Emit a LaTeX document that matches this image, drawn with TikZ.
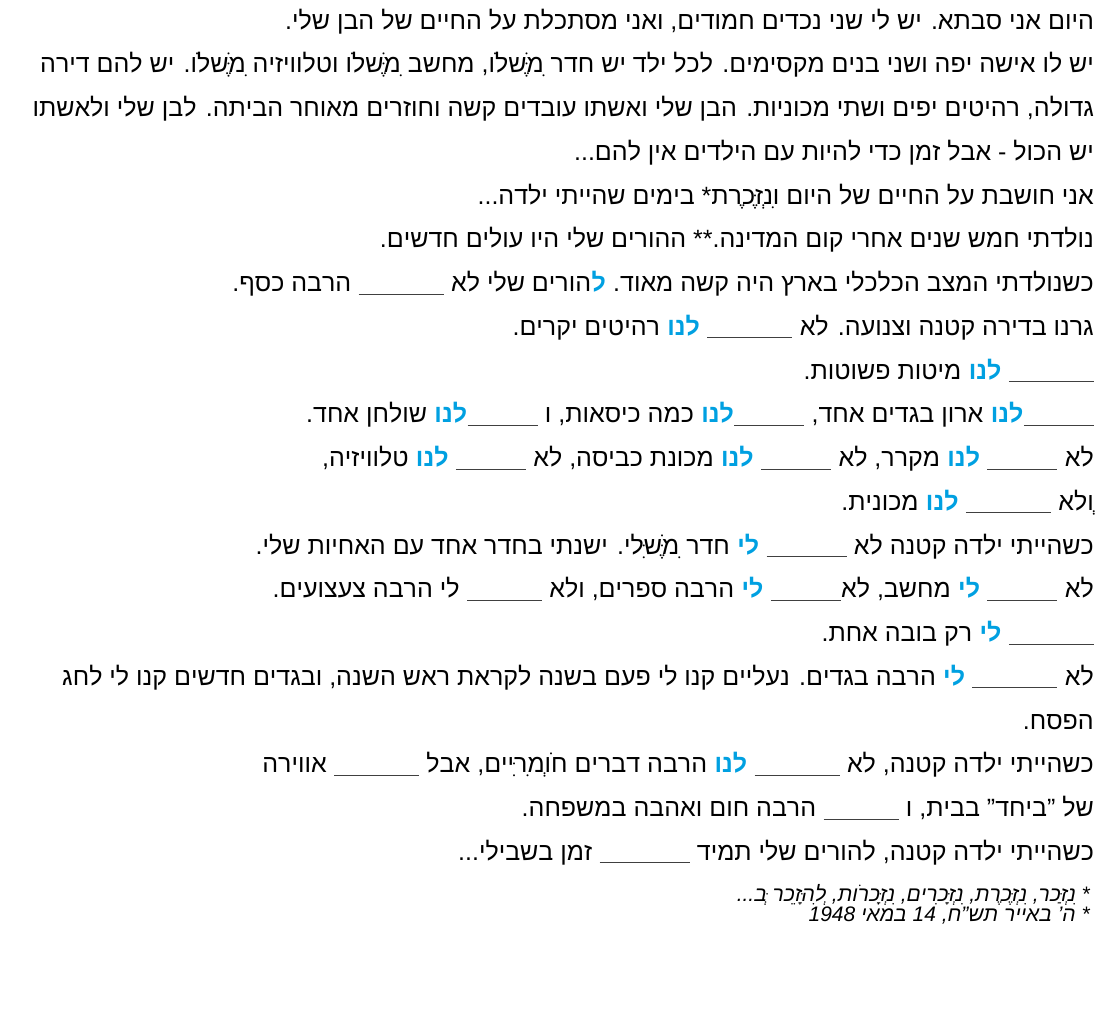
\documentclass[tikz,border=0pt]{standalone}
\usepackage{fontspec}
\setmainfont{Liberation Sans}
\TeXXeTstate=1
\definecolor{hblue}{RGB}{0,160,225}
\newcount\sc
\newcommand\seg[3]{\global\advance\sc1
  \node[ln,text=#1] (s\the\sc) at (cur) {#2};
  \coordinate (cur) at ([xshift=-#3]s\the\sc.base west);}
\newcommand\T[1]{\seg{black}{\beginR #1\endR}{7pt}}
\newcommand\Tn[1]{\seg{black}{\beginR #1\endR}{0pt}}
\newcommand\B[1]{\seg{hblue}{\bfseries\beginR #1\endR}{7pt}}
\newcommand\Bn[1]{\seg{hblue}{\bfseries\beginR #1\endR}{0pt}}
\newcommand\U[1]{\seg{black!75}{\rule[-3pt]{#1pt}{0.9pt}}{7pt}}
\newcommand\Un[1]{\seg{black!75}{\rule[-3pt]{#1pt}{0.9pt}}{0pt}}
\newcommand\start[1]{\coordinate (cur) at (1094,{29+(#1-1)*43.75});}
\begin{document}
\begin{tikzpicture}[x=1pt,y=-1pt,
  ln/.style={anchor=base east,inner sep=0pt,font=\fontsize{25}{30}\selectfont},
  fn/.style={anchor=east,inner sep=0pt,font=\fontsize{21}{23}\selectfont\itshape}]
\useasboundingbox (0,0) rectangle (1101,1018);
\start{1}\T{היום אני סבתא. יש לי שני נכדים חמודים, ואני מסתכלת על החיים של הבן שלי.}
\start{2}\T{יש לו אישה יפה ושני בנים מקסימים. לכל ילד יש חדר מִשֶּׁלוֹ, מחשב מִשֶּׁלוֹ וטלוויזיה מִשֶּׁלוֹ. יש להם דירה}
\start{3}\T{גדולה, רהיטים יפים ושתי מכוניות. הבן שלי ואשתו עובדים קשה וחוזרים מאוחר הביתה. לבן שלי ולאשתו}
\start{4}\T{יש הכול - אבל זמן כדי להיות עם הילדים אין להם...}
\start{5}\T{אני חושבת על החיים של היום ונִזְכֶּרֶת* בימים שהייתי ילדה...}
\start{6}\T{נולדתי חמש שנים אחרי קום המדינה.** ההורים שלי היו עולים חדשים.}
\start{7}\T{כשנולדתי המצב הכלכלי בארץ היה קשה מאוד.}\Bn{ל}\T{הורים שלי לא}\U{85}\T{הרבה כסף.}
\start{8}\T{גרנו בדירה קטנה וצנועה. לא}\U{85}\B{לנו}\T{רהיטים יקרים.}
\start{9}\U{85}\B{לנו}\T{מיטות פשוטות.}
\start{10}\Un{70}\B{לנו}\T{ארון בגדים אחד,}\Un{70}\B{לנו}\T{כמה כיסאות, ו}\Un{70}\B{לנו}\T{שולחן אחד.}
\start{11}\T{לא}\U{70}\B{לנו}\T{מקרר, לא}\U{70}\B{לנו}\T{מכונת כביסה, לא}\U{70}\B{לנו}\T{טלוויזיה,}
\start{12}\T{וְלא}\U{85}\B{לנו}\T{מכונית.}
\start{13}\T{כשהייתי ילדה קטנה לא}\U{80}\B{לי}\T{חדר מִשֶּׁלִּי. ישנתי בחדר אחד עם האחיות שלי.}
\start{14}\T{לא}\U{70}\B{לי}\Tn{מחשב, לא}\U{70}\B{לי}\T{הרבה ספרים, ולא}\U{75}\T{לי הרבה צעצועים.}
\start{15}\U{85}\B{לי}\T{רק בובה אחת.}
\start{16}\T{לא}\U{85}\B{לי}\T{הרבה בגדים. נעליים קנו לי פעם בשנה לקראת ראש השנה, ובגדים חדשים קנו לי לחג}
\start{17}\T{הפסח.}
\start{18}\T{כשהייתי ילדה קטנה, לא}\U{85}\B{לנו}\T{הרבה דברים חוֹמְרִיִּים, אבל}\U{85}\T{אווירה}
\start{19}\T{של "ביחד" בבית, ו}\U{75}\T{הרבה חום ואהבה במשפחה.}
\start{20}\T{כשהייתי ילדה קטנה, להורים שלי תמיד}\U{90}\T{זמן בשבילי...}
\node[fn] (f1) at (1090,895) {\beginR * נִזְכַּר, נִזְכֶּרֶת, נִזְכָּרִים, נִזְכָּרוֹת, לְהִזָּכֵר בְּ...\endR};
\node[fn] (f2) at (1090,915) {\beginR * ה' באייר תש"ח, \beginL14\endL{} במאי \beginL1948\endL\endR};
\end{tikzpicture}
\end{document}
